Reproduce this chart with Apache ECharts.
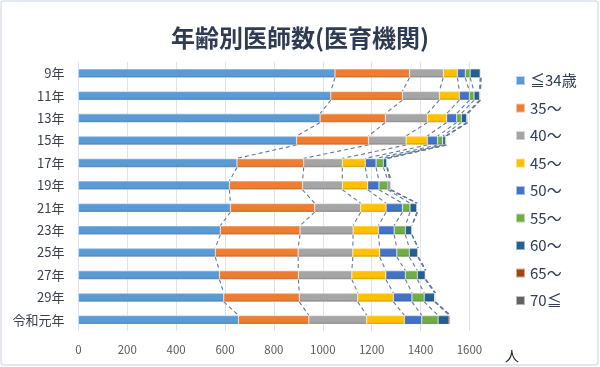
<!DOCTYPE html>
<html><head><meta charset="utf-8">
<script src="https://cdn.jsdelivr.net/npm/echarts@6/dist/echarts.min.js"></script>
<style>html,body{margin:0;padding:0;background:#fff}#c{width:600px;height:367px}</style>
</head><body><div id="c"></div>
<script>
const categories = ['9年','11年','13年','15年','17年','19年','21年','23年','25年','27年','29年','令和元年'];
const seriesNames = ['≦34歳','35～','40～','45～','50～','55～','60～','65～','70≦'];
const s34 = [1050,1033,989,893,649,618,622,581,560,577,595,655];
const s35 = [305,293,267,294,273,299,345,326,339,323,309,288];
const s40 = [138,151,172,154,158,163,188,217,224,219,239,237];
const s45 = [58,82,79,87,94,104,104,104,110,139,146,154];
const s50 = [32,41,41,42,44,46,67,64,70,80,76,71];
const s55 = [20,19,19,21,30,37,31,46,51,49,50,67];
const s60 = [41,22,22,11,14,8,28,27,35,32,43,45];
const s65 = [3,4,4,4,2,4,2,0,2,3,1,5];
const s70 = [1,0,0,0,0,0,0,0,0,0,3,0];
const xMin = 0, xMax = 1600, xInterval = 200;

const allSeries = [s34,s35,s40,s45,s50,s55,s60,s65,s70];
const colors = ['#5B9BD5','#ED7D31','#A5A5A5','#FFC000','#4472C4','#70AD47','#255E91','#9E480E','#636363'];
const BAR_W = 9;
const FONT = '"Noto Sans CJK JP","Noto Sans",sans-serif';

function mix(hex, t, target){
  const n = parseInt(hex.slice(1),16);
  let r=(n>>16)&255,g=(n>>8)&255,b=n&255;
  r=Math.round(r+(target-r)*t); g=Math.round(g+(target-g)*t); b=Math.round(b+(target-b)*t);
  return 'rgb('+r+','+g+','+b+')';
}
function grad(c){
  return new echarts.graphic.LinearGradient(0,0,0,1,[
    {offset:0,color:mix(c,0.35,255)},
    {offset:0.2,color:c},
    {offset:0.75,color:c},
    {offset:1,color:mix(c,0.25,0)}
  ]);
}

const cums = [];
let run = categories.map(()=>0);
allSeries.forEach(s=>{ run = run.map((v,i)=>v+s[i]); cums.push(run.slice()); });
const linkData = [];
cums.forEach(c=>{
  for(let i=0;i<categories.length-1;i++) linkData.push([c[i], i, c[i+1], i+1]);
});

const series = allSeries.map((s,k)=>({
  name: seriesNames[k], type:'bar', stack:'total', barWidth:BAR_W, clip:false,
  data: s, z:3,
  itemStyle:{color:grad(colors[k]), borderColor:'rgba(255,255,255,0.55)', borderWidth:0.5}
}));
series.push({
  name:'links', type:'custom', clip:false, z:2,
  encode:{x:[0,2], y:[1,3]},
  data: linkData,
  renderItem(params, api){
    const a = api.coord([api.value(0), api.value(1)]);
    const b = api.coord([api.value(2), api.value(3)]);
    const h = BAR_W/2;
    return {type:'line', shape:{x1:a[0],y1:a[1]+h,x2:b[0],y2:b[1]-h},
      style:{stroke:'#62799a', lineWidth:1.1, lineDash:[4,3]}};
  }
});

const chart = echarts.init(document.getElementById('c'), null, {renderer:'canvas'});
chart.setOption({
  animation:false,
  backgroundColor:'#fff',
  title:{text:'年齢別医師数(医育機関)', left:'center', top:21,
    textStyle:{fontFamily:FONT, fontSize:24, fontWeight:'bold', color:'#2f3b52'}},
  legend:{orient:'vertical', left:510, top:68, itemWidth:9, itemHeight:9, itemGap:12.5,
    icon:'rect', data:seriesNames,
    textStyle:{fontFamily:FONT, fontSize:15, lineHeight:15, color:'#2f3b52'}},
  grid:{left:78.4, top:62, width:391, height:269, containLabel:false},
  xAxis:{type:'value', min:xMin, max:xMax, interval:xInterval,
    axisLine:{show:false}, axisTick:{show:false},
    axisLabel:{fontFamily:FONT, fontSize:11.5, color:'#595959', margin:13, formatter:v=>String(v)},
    splitLine:{lineStyle:{color:'#dfe3e8', width:1}}},
  yAxis:{type:'category', data:categories, inverse:true,
    axisLine:{show:false}, axisTick:{show:false},
    axisLabel:{fontFamily:FONT, fontSize:13, color:'#3a3f4a', margin:14},
    splitLine:{show:false}},
  graphic:[
    {type:'rect', shape:{x:1,y:1,width:597,height:364,r:3}, style:{fill:'none', stroke:'#dbe2ea', lineWidth:1.5}, z:-1},
    {type:'text', x:512, y:356, style:{text:'人', fontFamily:FONT, fontSize:14, fill:'#222', align:'center', verticalAlign:'middle'}}
  ],
  series
});
</script></body></html>
